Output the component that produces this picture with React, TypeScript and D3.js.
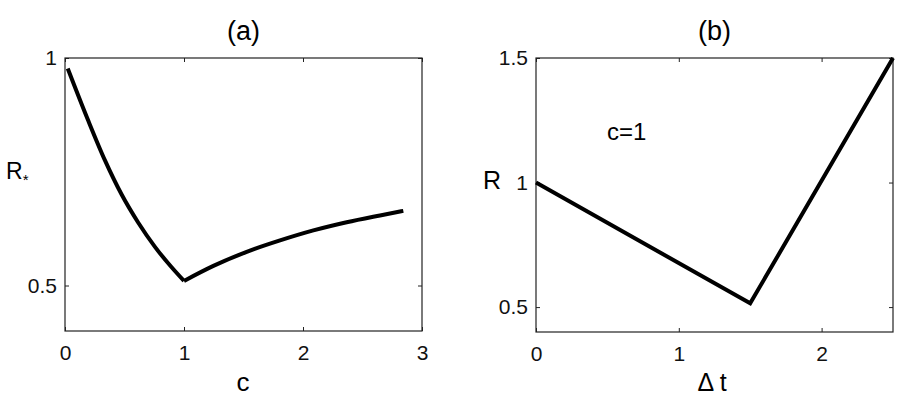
import * as d3 from "d3";
import { useEffect, useRef } from "react";

// panel (a): R* against c, two branches meeting at c = 1
const cLeft = [0.023, 0.196, 0.336, 0.476, 0.616, 0.756, 0.896, 1.0];
const rLeft = [0.977, 0.862, 0.775, 0.7, 0.638, 0.585, 0.54, 0.51];
const cRight = [1.0, 1.247, 1.527, 1.807, 2.087, 2.367, 2.647, 2.843];
const rRight = [0.51, 0.543, 0.574, 0.599, 0.621, 0.639, 0.654, 0.664];

// panel (b): R against delta t for c = 1
const dtValues = [0, 1.5, 2.5];
const rValues = [1.0, 0.515, 1.5];

const aXTicks = [0, 1, 2, 3];
const aYTicks = [0.5, 1];
const bXTicks = [0, 1, 2];
const bYTicks = [0.5, 1, 1.5];

const FONT = "'Liberation Sans', Arial, Helvetica, sans-serif";

type Pt = [number, number];

export default function App() {
  const svgRef = useRef<SVGSVGElement>(null);

  useEffect(() => {
    if (!svgRef.current) return;
    const svg = d3.select(svgRef.current);
    svg.selectAll("*").remove();

    const drawPanel = (
      box: { left: number; right: number; top: number; bottom: number },
      xDomain: [number, number],
      yDomain: [number, number],
      xTicks: number[],
      yTicks: number[],
      title: string,
      series: Pt[][],
      curve: d3.CurveFactory,
    ) => {
      const x = d3.scaleLinear().domain(xDomain).range([box.left, box.right]);
      const y = d3.scaleLinear().domain(yDomain).range([box.bottom, box.top]);
      const g = svg.append("g");
      const fmt = (d: d3.NumberValue) => String(+d);

      // bottom + left axes with labels, ticks pointing inward
      g.append("g")
        .attr("transform", `translate(0,${box.bottom})`)
        .call(d3.axisBottom(x).tickValues(xTicks).tickSize(-4).tickPadding(14).tickFormat(fmt))
        .call((s) => s.select(".domain").remove());
      g.append("g")
        .attr("transform", `translate(${box.left},0)`)
        .call(d3.axisLeft(y).tickValues(yTicks).tickSize(-4).tickPadding(8).tickFormat(fmt))
        .call((s) => s.select(".domain").remove());
      // mirrored ticks on top + right
      g.append("g")
        .attr("transform", `translate(0,${box.top})`)
        .call(d3.axisTop(x).tickValues(xTicks).tickSize(-4).tickFormat(() => ""))
        .call((s) => s.select(".domain").remove());
      g.append("g")
        .attr("transform", `translate(${box.right},0)`)
        .call(d3.axisRight(y).tickValues(yTicks).tickSize(-4).tickFormat(() => ""))
        .call((s) => s.select(".domain").remove());

      g.selectAll(".tick line").attr("stroke", "#222").attr("stroke-width", 1);
      g.selectAll(".tick text")
        .attr("fill", "#111")
        .style("font-family", FONT)
        .style("font-size", "21px");

      g.append("rect")
        .attr("x", box.left)
        .attr("y", box.top)
        .attr("width", box.right - box.left)
        .attr("height", box.bottom - box.top)
        .attr("fill", "none")
        .attr("stroke", "#222")
        .attr("stroke-width", 1.2);

      const line = d3
        .line<Pt>()
        .x((d) => x(d[0]))
        .y((d) => y(d[1]))
        .curve(curve);
      series.forEach((pts) => {
        g.append("path")
          .datum(pts)
          .attr("fill", "none")
          .attr("stroke", "#000")
          .attr("stroke-width", 4)
          .attr("stroke-linejoin", "miter")
          .attr("d", line);
      });

      g.append("text")
        .attr("x", (box.left + box.right) / 2)
        .attr("y", 40)
        .attr("text-anchor", "middle")
        .style("font-family", FONT)
        .style("font-size", "27px")
        .text(title);

      return g;
    };

    const ga = drawPanel(
      { left: 65, right: 422, top: 58, bottom: 331 },
      [0, 3],
      [0.4, 1],
      aXTicks,
      aYTicks,
      "(a)",
      [
        cLeft.map((c, i) => [c, rLeft[i]] as Pt),
        cRight.map((c, i) => [c, rRight[i]] as Pt),
      ],
      d3.curveMonotoneX,
    );
    ga.append("text")
      .attr("x", 243)
      .attr("y", 391)
      .attr("text-anchor", "middle")
      .style("font-family", FONT)
      .style("font-size", "26px")
      .text("c");
    const rs = ga
      .append("text")
      .attr("x", 6)
      .attr("y", 179)
      .style("font-family", FONT)
      .style("font-size", "23px");
    rs.append("tspan").text("R");
    rs.append("tspan").attr("dy", 6).style("font-size", "15px").text("*");

    const gb = drawPanel(
      { left: 536, right: 893, top: 58, bottom: 332 },
      [0, 2.5],
      [0.4, 1.5],
      bXTicks,
      bYTicks,
      "(b)",
      [dtValues.map((t, i) => [t, rValues[i]] as Pt)],
      d3.curveLinear,
    );
    gb.append("text")
      .attr("x", 712)
      .attr("y", 391)
      .attr("text-anchor", "middle")
      .style("font-family", FONT)
      .style("font-size", "25px")
      .text("\u0394 t");
    gb.append("text")
      .attr("x", 483)
      .attr("y", 189)
      .style("font-family", FONT)
      .style("font-size", "25px")
      .text("R");
    gb.append("text")
      .attr("x", 607)
      .attr("y", 140)
      .style("font-family", FONT)
      .style("font-size", "24px")
      .text("c=1");
  }, []);

  return (
    <svg
      ref={svgRef}
      width={900}
      height={401}
      style={{ position: "absolute", left: 0, top: 0, background: "#fff" }}
    />
  );
}
